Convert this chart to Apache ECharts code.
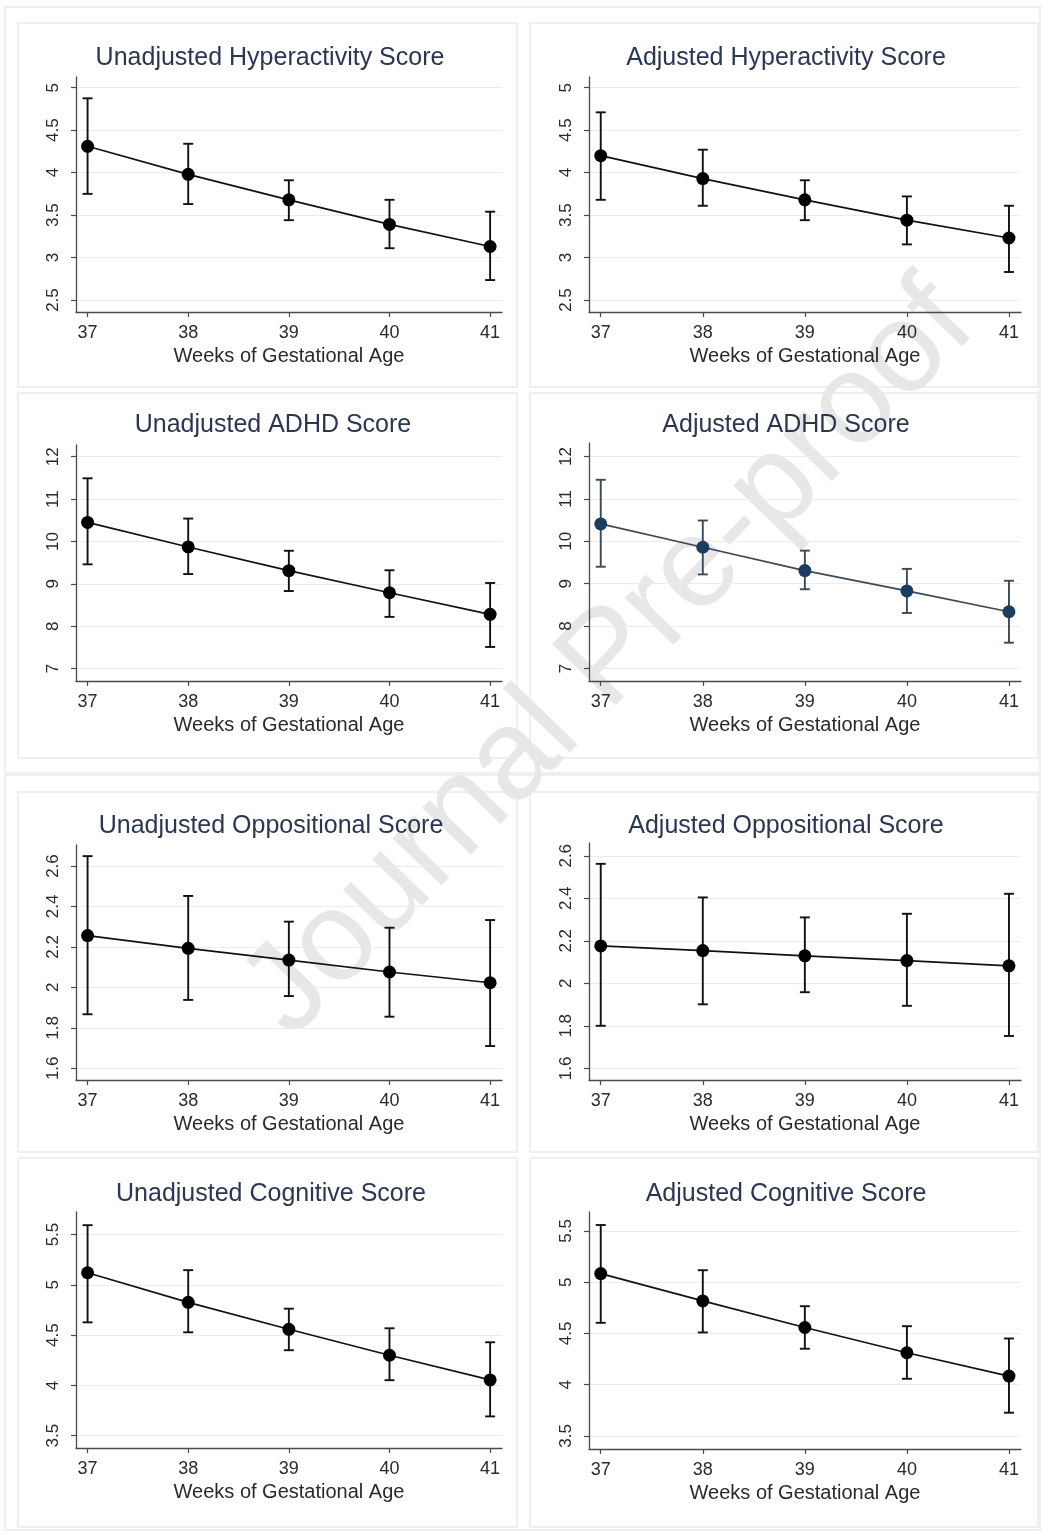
<!DOCTYPE html>
<html>
<head>
<meta charset="utf-8">
<script src="https://cdn.jsdelivr.net/npm/echarts@6/dist/echarts.min.js"></script>
<style>
html,body{margin:0;padding:0;background:#fff;}
#chart{width:1043px;height:1535px;}
</style>
</head>
<body>
<div id="chart"></div>
<script>
// ---------- data ----------
const weeks = [37, 38, 39, 40, 41];
const xAxisTitle = 'Weeks of Gestational Age';

const titles = [
  'Unadjusted Hyperactivity Score', 'Adjusted Hyperactivity Score',
  'Unadjusted ADHD Score', 'Adjusted ADHD Score',
  'Unadjusted Oppositional Score', 'Adjusted Oppositional Score',
  'Unadjusted Cognitive Score', 'Adjusted Cognitive Score'
];

const hypTicks = [2.5, 3, 3.5, 4, 4.5, 5];
const adhdTicks = [7, 8, 9, 10, 11, 12];
const oppTicks = [1.6, 1.8, 2, 2.2, 2.4, 2.6];
const cogTicks = [3.5, 4, 4.5, 5, 5.5];

const unadjHypEst = [4.31, 3.98, 3.68, 3.39, 3.13];
const unadjHypHi  = [4.875, 4.34, 3.91, 3.68, 3.54];
const unadjHypLo  = [3.75, 3.63, 3.44, 3.11, 2.735];

const adjHypEst = [4.20, 3.93, 3.68, 3.44, 3.23];
const adjHypHi  = [4.71, 4.27, 3.91, 3.72, 3.61];
const adjHypLo  = [3.68, 3.61, 3.44, 3.155, 2.83];

const unadjAdhdEst = [10.45, 9.87, 9.31, 8.79, 8.28];
const unadjAdhdHi  = [11.49, 10.54, 9.78, 9.32, 9.02];
const unadjAdhdLo  = [9.46, 9.23, 8.83, 8.22, 7.51];

const adjAdhdEst = [10.41, 9.86, 9.31, 8.83, 8.34];
const adjAdhdHi  = [11.45, 10.49, 9.78, 9.35, 9.07];
const adjAdhdLo  = [9.40, 9.22, 8.87, 8.31, 7.61];

const unadjOppEst = [2.256, 2.193, 2.135, 2.076, 2.023];
const unadjOppHi  = [2.649, 2.452, 2.325, 2.295, 2.333];
const unadjOppLo  = [1.867, 1.938, 1.957, 1.855, 1.710];

const adjOppEst = [2.176, 2.154, 2.129, 2.107, 2.082];
const adjOppHi  = [2.562, 2.404, 2.310, 2.327, 2.421];
const adjOppLo  = [1.800, 1.901, 1.958, 1.894, 1.752];

const unadjCogEst = [5.12, 4.826, 4.558, 4.30, 4.055];
const unadjCogHi  = [5.593, 5.146, 4.763, 4.568, 4.429];
const unadjCogLo  = [4.627, 4.528, 4.35, 4.052, 3.692];

const adjCogEst = [5.084, 4.818, 4.558, 4.312, 4.084];
const adjCogHi  = [5.558, 5.117, 4.766, 4.571, 4.451];
const adjCogLo  = [4.604, 4.510, 4.351, 4.058, 3.727];

// ---------- layout (positions / styles) ----------
const FONT = '"Liberation Sans", Arial, Helvetica, sans-serif';
const layout = [
  {left: 76,  top: 77,   width: 426, height: 235, yMin: 2.359, yMax: 5.126, titleX: 270, titleY: 57},
  {left: 589, top: 77,   width: 432, height: 235, yMin: 2.359, yMax: 5.126, titleX: 786, titleY: 57},
  {left: 76,  top: 445,  width: 426, height: 236, yMin: 6.707, yMax: 12.276, titleX: 273, titleY: 424},
  {left: 589, top: 443,  width: 432, height: 238, yMin: 6.707, yMax: 12.317, titleX: 786, titleY: 424},
  {left: 76,  top: 845,  width: 426, height: 235, yMin: 1.542, yMax: 2.704, titleX: 271, titleY: 825},
  {left: 589, top: 843,  width: 432, height: 237, yMin: 1.545, yMax: 2.660, titleX: 786, titleY: 825},
  {left: 76,  top: 1212, width: 426, height: 236, yMin: 3.378, yMax: 5.724, titleX: 271, titleY: 1193},
  {left: 589, top: 1212, width: 432, height: 237, yMin: 3.373, yMax: 5.685, titleX: 786, titleY: 1193}
];
const panelData = [
  [hypTicks, unadjHypEst, unadjHypLo, unadjHypHi],
  [hypTicks, adjHypEst, adjHypLo, adjHypHi],
  [adhdTicks, unadjAdhdEst, unadjAdhdLo, unadjAdhdHi],
  [adhdTicks, adjAdhdEst, adjAdhdLo, adjAdhdHi],
  [oppTicks, unadjOppEst, unadjOppLo, unadjOppHi],
  [oppTicks, adjOppEst, adjOppLo, adjOppHi],
  [cogTicks, unadjCogEst, unadjCogLo, unadjCogHi],
  [cogTicks, adjCogEst, adjCogLo, adjCogHi]
];
const colors = [
  {dot: '#000', line: '#111', bar: '#111'},
  {dot: '#000', line: '#111', bar: '#111'},
  {dot: '#000', line: '#111', bar: '#111'},
  {dot: '#1b3d5f', line: '#3c4956', bar: '#3c4956'},
  {dot: '#000', line: '#111', bar: '#111'},
  {dot: '#000', line: '#111', bar: '#111'},
  {dot: '#000', line: '#111', bar: '#111'},
  {dot: '#000', line: '#111', bar: '#111'}
];
const AXIS_COLOR = '#4a4a4a';
const TEXT_COLOR = '#2a2a2a';

const grids = [], xAxes = [], yAxes = [], series = [], titleList = [];

layout.forEach((L, i) => {
  const [ticks, est, lo, hi] = panelData[i];
  const c = colors[i];
  grids.push({left: L.left, top: L.top, width: L.width, height: L.height, containLabel: false});
  xAxes.push({
    type: 'value', gridIndex: i, min: 36.885, max: 41.118, z: 2,
    name: xAxisTitle, nameLocation: 'middle', nameGap: 34,
    nameTextStyle: {fontFamily: FONT, fontSize: 20, color: TEXT_COLOR},
    axisLine: {show: true, lineStyle: {color: AXIS_COLOR, width: 1.3}},
    axisTick: {show: true, length: 5, lineStyle: {color: AXIS_COLOR, width: 1.2}, customValues: weeks},
    axisLabel: {show: true, margin: 12, fontFamily: FONT, fontSize: 18, color: TEXT_COLOR, customValues: weeks},
    splitLine: {show: false}
  });
  yAxes.push({
    type: 'value', gridIndex: i, min: L.yMin, max: L.yMax, z: 2,
    axisLine: {show: true, lineStyle: {color: AXIS_COLOR, width: 1.3}},
    axisTick: {show: true, length: 5, lineStyle: {color: AXIS_COLOR, width: 1.2}, customValues: ticks},
    axisLabel: {show: true, rotate: 90, margin: 14, fontFamily: FONT, fontSize: 17, color: TEXT_COLOR, customValues: ticks},
    splitLine: {show: true, lineStyle: {color: '#ececec', width: 1}}
  });
  titleList.push({
    text: titles[i], left: L.titleX, top: L.titleY - 11, textAlign: 'center', padding: 0,
    textStyle: {fontFamily: FONT, fontSize: 25, fontWeight: 'normal', color: '#2b3652'}
  });
  series.push({
    type: 'custom', xAxisIndex: i, yAxisIndex: i, z: 3,
    data: weeks.map((w, k) => [w, lo[k], hi[k]]),
    encode: {x: 0, y: [1, 2]},
    renderItem: function (params, api) {
      const x = api.value(0);
      const pLo = api.coord([x, api.value(1)]);
      const pHi = api.coord([x, api.value(2)]);
      const hw = 5;
      const st = {stroke: c.bar, lineWidth: 1.9};
      return {
        type: 'group',
        children: [
          {type: 'line', shape: {x1: pLo[0], y1: pLo[1], x2: pHi[0], y2: pHi[1]}, style: st},
          {type: 'line', shape: {x1: pHi[0] - hw, y1: pHi[1], x2: pHi[0] + hw, y2: pHi[1]}, style: st},
          {type: 'line', shape: {x1: pLo[0] - hw, y1: pLo[1], x2: pLo[0] + hw, y2: pLo[1]}, style: st}
        ]
      };
    }
  });
  series.push({
    type: 'line', xAxisIndex: i, yAxisIndex: i, z: 4,
    data: weeks.map((w, k) => [w, est[k]]),
    symbol: 'circle', symbolSize: 13,
    itemStyle: {color: c.dot},
    lineStyle: {color: c.line, width: 1.7},
    animation: false, silent: true
  });
});

const boxes = [
  [5, 7, 1035, 766], [5, 775, 1035, 755],
  [18, 23, 499, 364], [530, 23, 508, 364],
  [18, 393, 499, 365], [530, 393, 508, 365],
  [18, 792, 499, 360], [530, 792, 508, 360],
  [18, 1158, 499, 369], [530, 1158, 508, 369]
];
const graphics = boxes.map(b => ({
  type: 'rect', z: -10, silent: true,
  shape: {x: b[0], y: b[1], width: b[2], height: b[3]},
  style: {fill: 'none', stroke: '#efefef', lineWidth: 2}
}));
graphics.push({
  type: 'text', z: -5, silent: true,
  x: 610, y: 660, rotation: 46 * Math.PI / 180,
  style: {
    text: 'Journal Pre-proof', fill: '#e7e7e7',
    font: '128px ' + FONT, align: 'center', verticalAlign: 'middle'
  }
});

const chart = echarts.init(document.getElementById('chart'), null, {renderer: 'canvas'});
chart.setOption({
  backgroundColor: '#ffffff',
  animation: false,
  title: titleList,
  grid: grids,
  xAxis: xAxes,
  yAxis: yAxes,
  series: series,
  graphic: {elements: graphics}
});
</script>
</body>
</html>
